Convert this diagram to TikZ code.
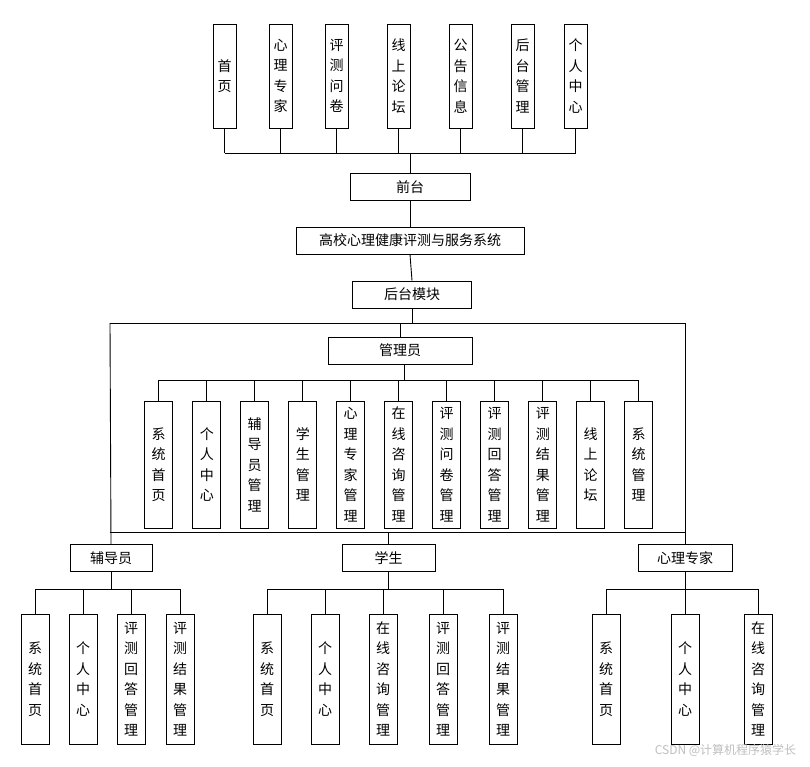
\documentclass[tikz,border=0pt]{standalone}
\usepackage{fontspec}
\newfontfamily\cjk{Noto Sans CJK SC}
\begin{document}
\begin{tikzpicture}[x=1pt,y=-1pt,line width=0.9pt,
  bx/.style={draw, inner sep=0pt, font=\cjk\fontsize{14}{20.5}\selectfont, align=center},
  hb/.style={bx, minimum height=27pt},
  vt/.style={bx, minimum width=23pt, minimum height=104pt},
  va/.style={bx, minimum width=28pt, minimum height=127pt},
  vb/.style={bx, minimum width=28pt, minimum height=130pt}]
\useasboundingbox (0,0) rectangle (810,766);
\fill[white] (0,0) rectangle (810,766);
% top
\node[vt] (t1) at (224.5,76) {首\\页};
\node[vt] (t2) at (280.5,76) {心\\理\\专\\家};
\node[vt] (t3) at (336.5,76) {评\\测\\问\\卷};
\node[vt] (t4) at (398.5,76) {线\\上\\论\\坛};
\node[vt] (t5) at (460.5,76) {公\\告\\信\\息};
\node[vt] (t6) at (522.5,76) {后\\台\\管\\理};
\node[vt] (t7) at (575.5,76) {个\\人\\中\\心};
\node[hb, minimum width=120pt] (qt) at (410,187) {前台};
\node[hb, minimum width=228pt] (sys) at (410,240.5) {高校心理健康评测与服务系统};
\node[hb, minimum width=119pt] (ht) at (412,294.5) {后台模块};
\coordinate (bus1) at (0,153);
\draw (t1.south |- bus1) -- (t7.south |- bus1);
\foreach \n in {t1,t2,t3,t4,t5,t6,t7} \draw (\n.south) -- (\n.south |- bus1);
\draw (qt.north) -- (qt.north |- bus1);
\draw (qt.south) -- (sys.north);
\draw (sys.south) -- (ht.north);
% admin
\node[hb, minimum width=144pt] (adm) at (400,350.5) {管理员};
\coordinate (frameT) at (0,323);
\coordinate (frameB) at (0,532);
\draw (ht.south) -- (ht.south |- frameT);
\draw (110,323) -- (685,323);
\draw (adm.north) -- (adm.north |- frameT);
\coordinate (bus2) at (0,380);
\draw (404,364) -- (404,380);
\def\ax{{158.6,206.8,254.6,302.8,350.7,398.5,446.7,494.6,542.8,590.6,638.5}}
\node[va] (a1) at (158.6,464.5) {系\\统\\首\\页};
\node[va] (a2) at (206.8,464.5) {个\\人\\中\\心};
\node[va] (a3) at (254.6,464.5) {辅\\导\\员\\管\\理};
\node[va] (a4) at (302.8,464.5) {学\\生\\管\\理};
\node[va] (a5) at (350.7,464.5) {心\\理\\专\\家\\管\\理};
\node[va] (a6) at (398.5,464.5) {在\\线\\咨\\询\\管\\理};
\node[va] (a7) at (446.7,464.5) {评\\测\\问\\卷\\管\\理};
\node[va] (a8) at (494.6,464.5) {评\\测\\回\\答\\管\\理};
\node[va] (a9) at (542.8,464.5) {评\\测\\结\\果\\管\\理};
\node[va] (a10) at (590.6,464.5) {线\\上\\论\\坛};
\node[va] (a11) at (638.5,464.5) {系\\统\\管\\理};
\draw (a1.north |- bus2) -- (a11.north |- bus2);
\foreach \n in {a1,a2,a3,a4,a5,a6,a7,a8,a9,a10,a11} \draw (\n.north) -- (\n.north |- bus2);
\draw (110,532) -- (685,532);
% roles
\node[hb, minimum width=82pt] (fd) at (111,558) {辅导员};
\node[hb, minimum width=93pt] (xs) at (388.5,558) {学生};
\node[hb, minimum width=94pt] (zj) at (685,558) {心理专家};
\draw (110,323) -- (fd.north);
\draw (685,323) -- (zj.north);
\draw (xs.north) -- (xs.north |- frameB);
\coordinate (bus3) at (0,589);
% fd children
\node[vb] (f1) at (35,679) {系\\统\\首\\页};
\node[vb] (f2) at (83,679) {个\\人\\中\\心};
\node[vb] (f3) at (131,679) {评\\测\\回\\答\\管\\理};
\node[vb] (f4) at (180,679) {评\\测\\结\\果\\管\\理};
\draw (fd.south) -- (fd.south |- bus3);
\draw (f1.north |- bus3) -- (f4.north |- bus3);
\foreach \n in {f1,f2,f3,f4} \draw (\n.north) -- (\n.north |- bus3);
% xs children
\node[vb] (s1) at (267,679) {系\\统\\首\\页};
\node[vb] (s2) at (325,679) {个\\人\\中\\心};
\node[vb] (s3) at (383,679) {在\\线\\咨\\询\\管\\理};
\node[vb] (s4) at (443,679) {评\\测\\回\\答\\管\\理};
\node[vb] (s5) at (503,679) {评\\测\\结\\果\\管\\理};
\draw (xs.south) -- (xs.south |- bus3);
\draw (s1.north |- bus3) -- (s5.north |- bus3);
\foreach \n in {s1,s2,s3,s4,s5} \draw (\n.north) -- (\n.north |- bus3);
% zj children
\node[vb] (z1) at (606,679) {系\\统\\首\\页};
\node[vb] (z2) at (685,679) {个\\人\\中\\心};
\node[vb] (z3) at (758,679) {在\\线\\咨\\询\\管\\理};
\draw (zj.south) -- (zj.south |- bus3);
\draw (z1.north |- bus3) -- (z3.north |- bus3);
\foreach \n in {z1,z2,z3} \draw (\n.north) -- (\n.north |- bus3);
\node[font=\cjk\fontsize{12}{14}\selectfont, text=black!25, anchor=east] (wm) at (800,750) {CSDN @计算机程序猿学长};
\end{tikzpicture}
\end{document}
